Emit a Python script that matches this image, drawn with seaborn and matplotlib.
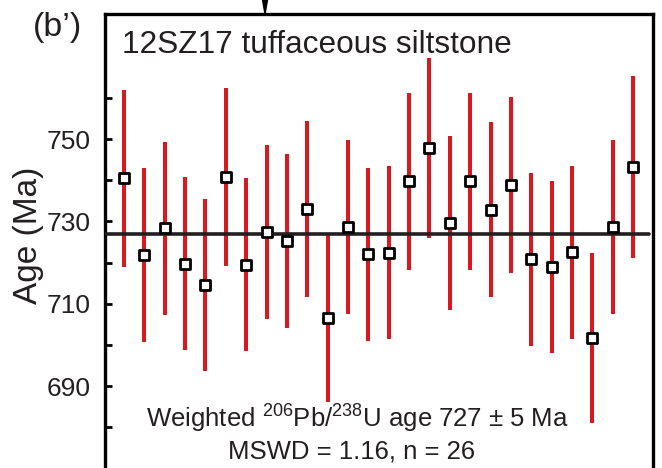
import matplotlib
matplotlib.use("Agg")
import matplotlib.pyplot as plt
from matplotlib.ticker import FixedLocator
from matplotlib.patches import Polygon
import seaborn as sns
import pandas as pd

# ---- data ----
spot = list(range(1, 27))
age = [740.5, 721.9, 728.3, 719.7, 714.6, 740.8, 719.5, 727.5, 725.2, 733.0,
       706.5, 728.6, 722.0, 722.4, 739.8, 747.8, 729.6, 739.8, 732.9, 738.8,
       720.8, 719.0, 722.5, 701.7, 728.6, 743.3]
err = [21.5, 21.2, 21.1, 21.0, 20.9, 21.6, 21.0, 21.1, 21.2, 21.4,
       20.4, 21.2, 21.0, 21.0, 21.5, 21.9, 21.2, 21.5, 21.3, 21.4,
       21.0, 20.9, 21.0, 20.6, 21.2, 22.1]
weighted_mean = 727
major_ticks = [690, 710, 730, 750]
minor_ticks = [680, 700, 720, 740, 760]
panel_label = "(b\u2019)"
title = "12SZ17 tuffaceous siltstone"
ylabel = "Age (Ma)"
note1 = r"Weighted $\mathregular{^{206}}$Pb/$\mathregular{^{238}}$U age 727 ± 5 Ma"
note2 = "MSWD = 1.16, n = 26"

df = pd.DataFrame({"spot": spot, "age": age, "err": err})

sns.set_theme(style="white")
plt.rcParams["font.family"] = ["Liberation Sans", "DejaVu Sans"]
plt.rcParams["mathtext.fontset"] = "custom"
plt.rcParams["mathtext.rm"] = "Liberation Sans"

TXT = "#231f20"
RED = "#d71920"

fig = plt.figure(figsize=(6.62, 4.68), dpi=100)
ax = fig.add_axes([105 / 662, 0.0, 548 / 662, 454 / 468])

ax.vlines(df["spot"], df["age"] - df["err"], df["age"] + df["err"],
          color=RED, linewidth=2.9, zorder=2)
ax.axhline(weighted_mean, xmin=0, xmax=(26.8 - 0.066) / (26.98 - 0.066),
           color=TXT, linewidth=2.6, zorder=3)
sns.scatterplot(data=df, x="spot", y="age", marker="s", s=60,
                facecolor="white", edgecolor="black", linewidth=2.0,
                ax=ax, zorder=4, legend=False)

ax.set_xlim(0.066, 26.98)
ax.set_ylim(670.1, 780.4)
ax.set_xlabel("")
ax.set_ylabel("")
ax.set_xticks([])
ax.yaxis.set_major_locator(FixedLocator(major_ticks))
ax.yaxis.set_minor_locator(FixedLocator(minor_ticks))
ax.tick_params(axis="y", which="both", direction="in", left=True, length=5,
               width=2.0, color="black", labelsize=19, labelcolor=TXT, pad=10)
for side in ["left", "top", "right"]:
    ax.spines[side].set_visible(True)
    ax.spines[side].set_color("black")
    ax.spines[side].set_linewidth(2.4)
ax.spines["bottom"].set_visible(False)

# arrow marker above top spine
tri = Polygon([(0.2875, 1.031), (0.2965, 1.031), (0.292, 1.0)], closed=True,
              transform=ax.transAxes, clip_on=False, color="black")
ax.add_patch(tri)

fig.text(33 / 662, 1 - 36 / 468, panel_label, fontsize=24.5, color=TXT,
         ha="left", va="baseline")
fig.text(122 / 662, 1 - 53 / 468, title, fontsize=22.8, color=TXT,
         ha="left", va="baseline")
fig.text(29 / 662, 1 - 235 / 468, ylabel, fontsize=24, color=TXT,
         rotation=90, ha="center", va="center")
fig.text(357 / 662, 1 - 428 / 468, note1, fontsize=18.5, color=TXT,
         ha="center", va="baseline")
fig.text(352 / 662, 1 - 458 / 468, note2, fontsize=18.5, color=TXT,
         ha="center", va="baseline")

fig.savefig("out.png", dpi=100)
